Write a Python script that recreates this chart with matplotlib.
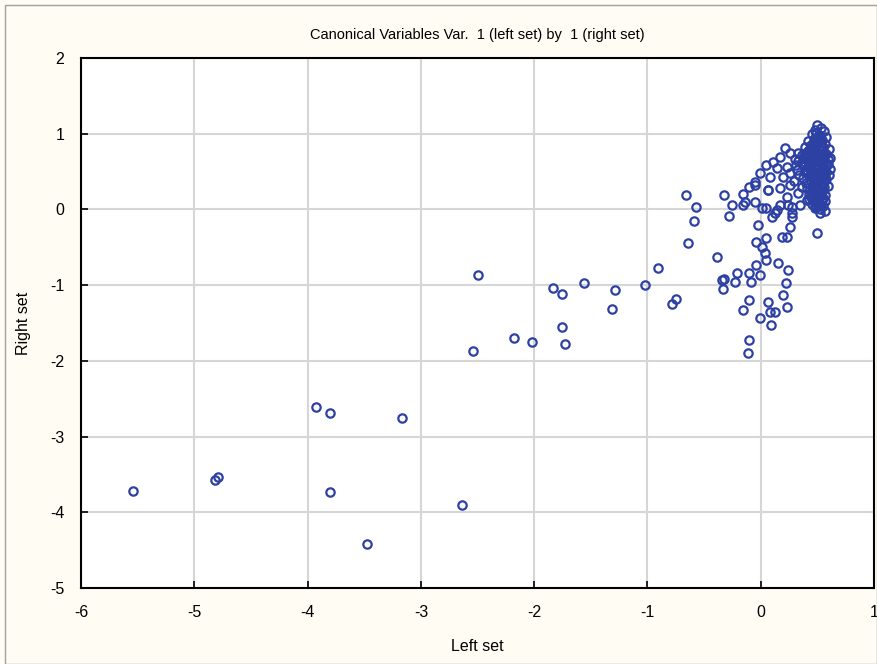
import numpy as np
import matplotlib.pyplot as plt
from matplotlib.patches import Rectangle

plt.rcParams['font.family'] = ['Liberation Sans', 'DejaVu Sans']
plt.rcParams['axes.unicode_minus'] = False

# scattered points, far left / middle
outer_x = [-5.54, -4.82, -4.79, -3.93, -3.80, -3.80, -3.48, -3.17, -2.64, -2.50,
           -2.54, -2.18, -2.02, -1.83, -1.75, -1.75, -1.73, -1.56, -1.29, -1.31,
           -1.02, -0.91, -0.78, -0.75, -0.66, -0.64, -0.57, -0.59, -0.39, -0.34,
           -0.33]
outer_y = [-3.72, -3.58, -3.53, -2.61, -2.69, -3.73, -4.42, -2.76, -3.90, -0.87,
           -1.87, -1.70, -1.75, -1.04, -1.12, -1.55, -1.78, -0.97, -1.07, -1.32,
           -1.00, -0.78, -1.25, -1.18, 0.19, -0.44, 0.03, -0.15, -0.63, -0.93,
           -1.05]

# points around zero
mid_x = [-0.05, 0.06, -0.32, -0.16, -0.25, -0.16, -0.05, -0.28, 0.01, 0.05,
         0.10, 0.13, 0.17, 0.24, 0.28, 0.28, -0.02, 0.26, 0.50, 0.48,
         0.52, 0.05, -0.04, 0.19, 0.23, 0.01, 0.04, 0.05, 0.15, -0.04,
         0.24, -0.01, -0.10, -0.21, -0.32, -0.23, -0.09, 0.22, 0.20, -0.10,
         -0.16, 0.06, 0.08, 0.13, 0.23, -0.01, 0.09, -0.10, -0.11]
mid_y = [0.32, 0.26, 0.19, 0.20, 0.06, 0.06, 0.10, -0.09, 0.02, 0.02,
         -0.10, -0.05, 0.06, 0.06, -0.05, -0.10, -0.21, -0.23, -0.31, 0.06,
         -0.05, -0.38, -0.43, -0.36, -0.36, -0.50, -0.58, -0.67, -0.71, -0.73,
         -0.80, -0.87, -0.84, -0.84, -0.92, -0.96, -0.96, -0.97, -1.13, -1.20,
         -1.33, -1.22, -1.36, -1.36, -1.29, -1.43, -1.53, -1.73, -1.90]

# arc leading into the cluster
arc_x = [0.21, 0.26, 0.17, 0.11, 0.05, 0.14, 0.23, -0.01, 0.08, 0.20,
         0.26, -0.05, 0.06, 0.17, 0.26, 0.23, 0.33, -0.10, 0.33, 0.36,
         0.32, 0.37, 0.35, 0.28, 0.14, 0.41, -0.14, 0.30, 0.29, 0.38,
         0.34, 0.31, 0.39, 0.36]
arc_y = [0.81, 0.75, 0.69, 0.63, 0.59, 0.55, 0.56, 0.48, 0.43, 0.43,
         0.48, 0.36, 0.26, 0.28, 0.32, 0.16, 0.22, 0.30, 0.75, 0.61,
         0.52, 0.41, 0.06, 0.03, -0.01, 0.12, 0.10, 0.66, 0.38, 0.70,
         0.45, 0.58, 0.49, 0.29]

# dense cluster
dense_x = [0.50, 0.53, 0.48, 0.56, 0.45, 0.51, 0.58, 0.47, 0.54, 0.42,
           0.50, 0.57, 0.44, 0.53, 0.39, 0.48, 0.60, 0.55, 0.42, 0.50,
           0.46, 0.58, 0.36, 0.53, 0.44, 0.61, 0.49, 0.40, 0.56, 0.46,
           0.52, 0.33, 0.59, 0.43, 0.50, 0.38, 0.55, 0.47, 0.61, 0.41,
           0.52, 0.57, 0.45, 0.49, 0.60, 0.43, 0.54, 0.47, 0.58, 0.50,
           0.44, 0.56, 0.48, 0.53, 0.45, 0.59, 0.50, 0.55, 0.46, 0.52,
           0.48, 0.57, 0.44, 0.51, 0.54, 0.47, 0.50, 0.45, 0.55, 0.49,
           0.52, 0.57, 0.48, 0.51, 0.46, 0.54, 0.49, 0.42, 0.56, 0.51,
           0.47, 0.53, 0.58, 0.40, 0.52, 0.46, 0.55, 0.50, 0.44, 0.59,
           0.49, 0.52, 0.47, 0.55, 0.51, 0.48, 0.54, 0.46, 0.50, 0.53,
           0.45, 0.56, 0.49, 0.52, 0.47, 0.54, 0.50, 0.43, 0.57, 0.51,
           0.48, 0.53, 0.46, 0.55, 0.50, 0.44, 0.52, 0.49, 0.56, 0.47,
           0.51, 0.54, 0.48, 0.45, 0.53, 0.50, 0.58, 0.46, 0.52, 0.49,
           0.41, 0.43, 0.39, 0.42, 0.44, 0.40, 0.37, 0.45, 0.41, 0.43]
dense_y = [1.12, 1.08, 1.05, 1.03, 0.99, 0.98, 0.95, 0.93, 0.92, 0.90,
           0.88, 0.87, 0.85, 0.84, 0.82, 0.81, 0.80, 0.78, 0.77, 0.76,
           0.74, 0.73, 0.72, 0.71, 0.70, 0.68, 0.67, 0.66, 0.65, 0.63,
           0.62, 0.64, 0.60, 0.59, 0.58, 0.57, 0.56, 0.54, 0.53, 0.52,
           0.51, 0.49, 0.48, 0.46, 0.45, 0.44, 0.43, 0.41, 0.40, 0.38,
           0.37, 0.36, 0.34, 0.32, 0.30, 0.31, 0.28, 0.26, 0.25, 0.23,
           0.20, 0.19, 0.17, 0.16, 0.13, 0.12, 0.09, 0.07, 0.05, 0.03,
           0.00, -0.02, 0.55, 0.70, 0.86, 0.60, 0.92, 0.64, 0.72, 0.44,
           0.22, 0.35, 0.58, 0.75, 0.96, 0.42, 0.47, 0.65, 0.52, 0.66,
           1.01, 0.94, 0.89, 0.83, 0.79, 0.73, 0.69, 0.61, 0.55, 0.50,
           0.45, 0.41, 0.39, 0.33, 0.29, 0.24, 0.18, 0.14, 0.11, 0.06,
           0.02, 0.27, 0.40, 0.15, 0.35, 0.22, 0.48, 0.10, 0.30, 0.57,
           0.62, 0.68, 0.77, 0.80, 0.85, 0.91, 0.50, 0.33, 0.07, 0.25,
           0.71, 0.79, 0.63, 0.56, 0.48, 0.35, 0.68, 0.62, 0.28, 0.20]

left_set = np.array(outer_x + mid_x + arc_x + dense_x)
right_set = np.array(outer_y + mid_y + arc_y + dense_y)

fig = plt.figure(figsize=(8.77, 6.64), dpi=100, facecolor='#fefcf3')
fig.patches.append(Rectangle((0.006, 0.0), 0.994, 0.993, transform=fig.transFigure,
                             fill=False, edgecolor='#a0a0a0', linewidth=1.0))
ax = fig.add_axes([0.0924, 0.1145, 0.9042, 0.7982])
ax.set_facecolor('white')

ax.plot(left_set, right_set, linestyle='none', marker='o', markersize=6,
        markerfacecolor='none', markeredgecolor='#2d40a3', markeredgewidth=1.6,
        zorder=3)

ax.set_xlim(-6, 1)
ax.set_ylim(-5, 2)
ax.set_xticks(range(-6, 2))
ax.set_yticks(range(-5, 3))
ax.grid(True, color='#d6d6d6', linewidth=1.5, zorder=0)
ax.set_axisbelow(True)
for s in ax.spines.values():
    s.set_linewidth(1.5)
    s.set_color('black')
ax.tick_params(direction='in', length=5, width=1.2, labelsize=11.5, pad=12)

ax.set_title('Canonical Variables Var.  1 (left set) by  1 (right set)',
             fontsize=10.5, pad=14)
ax.set_xlabel('Left set', fontsize=11.5, labelpad=14)
ax.set_ylabel('Right set', fontsize=11.5, labelpad=14)

plt.savefig('out.png', dpi=100, facecolor=fig.get_facecolor())
